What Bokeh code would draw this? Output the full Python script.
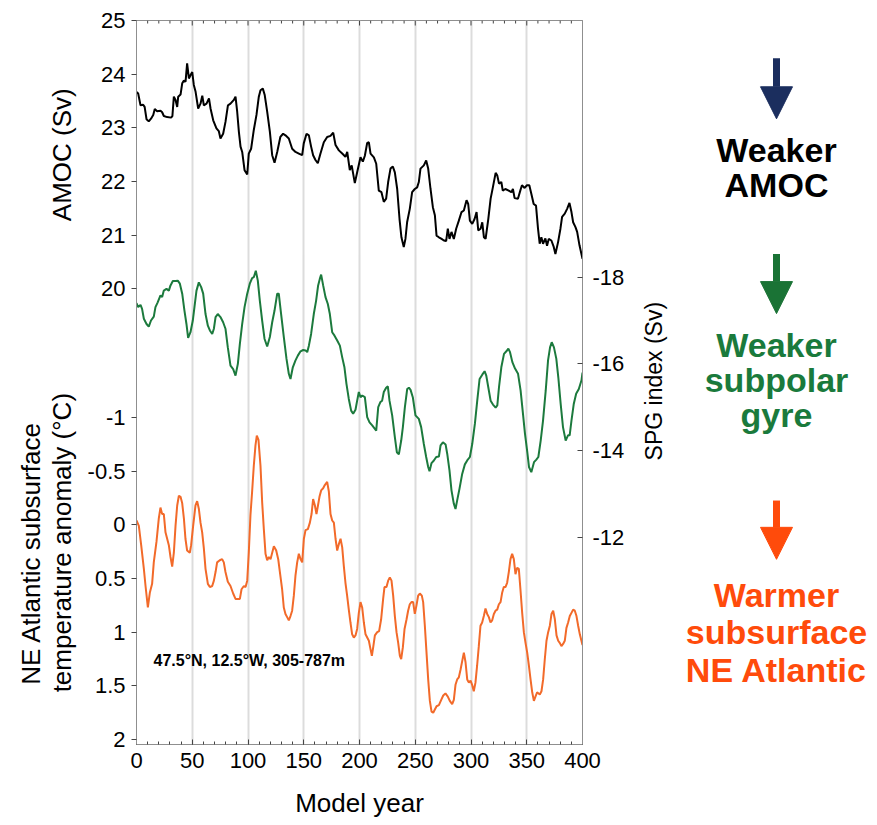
import math
from bokeh.plotting import figure
from bokeh.models import Range1d, LinearAxis, FixedTicker, Label, Arrow, NormalHead
from bokeh.layouts import row
from bokeh.embed import file_html
from bokeh.resources import INLINE
from bokeh.core.properties import value

# ---------------- data ----------------
amoc_year = [0, 1.5, 3.6, 6, 7.3, 9, 11, 13, 15, 16.4, 18.5, 21.5, 23, 24.5, 27.5, 31, 32.2, 33.5, 35, 36.5,
             37.4, 39.5, 41, 42.5, 44, 45.4, 47, 48.4, 50, 51.4, 53, 55.3, 57.4, 59, 60.4, 62.8, 65, 66.4, 68.8,
             71.7, 73.8, 75.3, 77.7, 79.8, 82, 84.3, 87.3, 88.8, 90.3, 91.8, 93.3, 94.8, 96.9, 99.3, 100.7, 102.8,
             105.2, 107.6, 109.7, 111.2, 113.3, 115, 117.2, 119.6, 121.7, 123.8, 126.2, 129, 131.5, 133.6, 136.6,
             139.6, 142.6, 145.6, 148.6, 150, 152.5, 154.6, 156.6, 158.4, 160.5, 162.6, 165, 168, 171, 174, 176.4,
             178.5, 181.5, 184.5, 187.4, 189, 191.3, 193, 195.8, 198, 200.9, 203, 204.8, 206.9, 208.4, 209.9,
             212.9, 215, 217.3, 219.7, 221.8, 223.9, 225.7, 227.8, 229.9, 231.7, 233.8, 235.9, 237.6, 239.7,
             241.2, 242.7, 245.1, 247.2, 249.6, 251.7, 253.2, 254.7, 257.7, 259.8, 261.6, 263.7, 265.8, 267.6,
             269.1, 271.2, 273.6, 275.7, 277.7, 279.2, 280.7, 282.5, 284.6, 286.7, 289.1, 291.5, 293.6, 296,
             297.5, 299, 301.1, 303.2, 305, 306.5, 308.6, 310.1, 311.6, 313.1, 315.5, 317.6, 319.7, 322.1, 323.6,
             325.1, 327.2, 328.5, 330.8, 333.8, 336.2, 337.6, 339.1, 342.1, 344.2, 345.7, 348.1, 350.2, 352.3,
             354.1, 356.2, 358.3, 360.1, 361.6, 363.1, 364.6, 366.7, 368.2, 369.7, 372.1, 374.2, 375.7, 378.1,
             380.2, 381.7, 384.1, 386.2, 388.3, 390.1, 391.6, 393.7, 395.2, 397.3, 400]
amoc_sv = [23.67, 23.64, 23.42, 23.43, 23.39, 23.16, 23.12, 23.17, 23.24, 23.35, 23.31, 23.32, 23.29, 23.22,
           23.2, 23.19, 23.22, 23.58, 23.52, 23.39, 23.58, 23.62, 23.83, 23.88, 23.86, 24.2, 23.92, 23.98, 24.04,
           23.8, 23.67, 23.36, 23.45, 23.6, 23.42, 23.45, 23.55, 23.36, 23.14, 22.99, 22.94, 22.8, 22.89, 23.11,
           23.42, 23.45, 23.52, 23.58, 23.3, 22.93, 22.65, 22.55, 22.21, 22.13, 22.52, 22.61, 22.96, 23.24,
           23.58, 23.7, 23.73, 23.61, 23.3, 22.93, 22.49, 22.35, 22.55, 22.83, 22.89, 22.86, 22.8, 22.61, 22.55,
           22.52, 22.49, 22.71, 22.89, 22.86, 22.65, 22.49, 22.4, 22.34, 22.52, 22.73, 22.83, 22.85, 22.91,
           22.68, 22.58, 22.52, 22.46, 22.55, 22.21, 22.3, 21.97, 22.18, 22.45, 22.37, 22.48, 22.72, 22.73,
           22.52, 22.45, 22.33, 21.83, 21.8, 21.62, 21.68, 21.99, 22.24, 22.28, 22.17, 21.86, 21.3, 20.96,
           20.78, 20.93, 21.24, 21.49, 21.8, 21.86, 21.89, 21.99, 22.24, 22.3, 22.39, 22.24, 21.86, 21.52,
           21.37, 20.99, 20.96, 20.93, 20.9, 20.89, 21.12, 20.93, 21.06, 20.93, 21.12, 21.27, 21.43, 21.46,
           21.65, 21.58, 21.27, 21.21, 21.3, 21.43, 21.09, 21.12, 21.24, 20.96, 20.93, 21.3, 21.68, 21.9, 22.16,
           22.11, 21.96, 21.99, 21.83, 21.86, 21.83, 21.8, 21.86, 21.69, 21.68, 21.83, 21.93, 21.88, 21.93,
           21.93, 21.77, 21.58, 21.55, 21.12, 20.84, 20.96, 20.84, 20.94, 20.8, 20.93, 20.9, 20.78, 20.65,
           20.87, 21.12, 21.34, 21.4, 21.49, 21.6, 21.43, 21.24, 21.15, 21.06, 20.81, 20.56]

spg_year = [0, 1.5, 3.6, 5, 6.6, 9, 11, 13, 15.5, 17, 19, 21.5, 23, 24.5, 26.9, 29, 30.5, 32.6, 35, 37, 38.9,
            41, 43, 44.8, 46.3, 48.4, 50.5, 52.3, 53.8, 55.9, 58, 59.8, 61.9, 64, 65.8, 67.9, 69.4, 70.9, 72.9,
            75.3, 77.7, 79.8, 81.9, 84.3, 86.7, 88.8, 90.9, 92.7, 94.8, 96.9, 99.3, 101.6, 103.7, 105.2, 107,
            108.8, 110.6, 112.7, 114.8, 117.2, 119.6, 121.7, 123.8, 126.2, 127.6, 129.7, 132.1, 134.5, 136.6,
            138.1, 140.2, 142.6, 144.7, 147.1, 149.5, 151.6, 153.1, 154.6, 156.6, 159, 161.1, 162.9, 164.4,
            165.6, 167.4, 169.5, 171.6, 173.4, 175.5, 177.6, 180, 182.4, 184.5, 186.5, 188.3, 190.4, 192.5,
            194.3, 196.4, 197.9, 199.4, 200.9, 202.4, 204.8, 206.9, 209, 211.4, 213.8, 215, 216.8, 218.8,
            220.3, 221.8, 223.9, 225.4, 226.9, 229.3, 231.7, 233.5, 235.3, 237.4, 238.9, 240.7, 242.8, 244.3,
            245.8, 247.8, 250.2, 253.2, 255.3, 257.7, 259.8, 261.6, 262.8, 264.6, 266.7, 268.8, 271.2, 272.7,
            274.8, 277.2, 278.7, 280.7, 282.5, 284.6, 286.1, 287.6, 289.7, 292.1, 294.5, 296.6, 299, 301.1,
            303.5, 305.6, 307.7, 310.1, 312.2, 313.7, 315.5, 317.6, 319.7, 322.1, 323.6, 325.1, 327.2, 329.6,
            331.7, 333.5, 335, 337.1, 339.5, 342.2, 344.5, 346.6, 348.4, 350.5, 352, 354.1, 356.5, 358.6,
            360.4, 362.5, 364.6, 367, 369.1, 370.9, 372.4, 374.4, 376.5, 378.3, 380.4, 382.5, 384.9, 387,
            388.5, 390.1, 392.2, 394.3, 396.7, 399.1, 400]
spg_sv = [-17.4, -17.31, -17.36, -17.27, -17.04, -16.92, -16.86, -17.0, -17.09, -17.31, -17.42, -17.58, -17.54,
          -17.69, -17.73, -17.69, -17.81, -17.91, -17.91, -17.92, -17.85, -17.62, -17.23, -16.92, -16.6, -16.73,
          -17.0, -17.38, -17.69, -17.88, -17.77, -17.62, -17.15, -16.88, -16.77, -16.69, -16.81, -17.08, -17.15,
          -17.08, -16.96, -16.81, -16.38, -15.96, -15.88, -15.73, -16.0, -16.46, -16.92, -17.31, -17.62, -17.85,
          -17.98, -18.0, -18.15, -17.92, -17.46, -17.0, -16.58, -16.4, -16.62, -16.96, -17.23, -17.62, -17.62,
          -17.15, -16.62, -16.12, -15.77, -15.65, -15.92, -16.08, -16.19, -16.29, -16.32, -16.31, -16.27,
          -16.42, -16.69, -17.15, -17.46, -17.81, -17.96, -18.06, -17.81, -17.54, -17.38, -17.15, -16.73,
          -16.65, -16.54, -16.42, -16.15, -15.92, -15.54, -15.19, -14.92, -14.85, -14.94, -15.15, -15.35,
          -15.23, -15.27, -15.23, -14.77, -14.65, -14.58, -14.5, -14.46, -15.0, -15.12, -15.15, -15.35, -15.45,
          -15.48, -15.15, -14.81, -14.31, -13.96, -13.91, -14.23, -14.54, -15.0, -15.42, -15.45, -15.4, -15.23,
          -14.81, -14.73, -14.54, -14.15, -13.85, -13.62, -13.52, -13.71, -13.77, -13.85, -13.86, -14.12,
          -14.19, -14.14, -13.92, -13.54, -13.08, -12.77, -12.65, -12.85, -13.12, -13.46, -13.68, -13.77,
          -13.85, -14.15, -14.62, -15.15, -15.65, -15.75, -15.83, -15.73, -15.46, -15.15, -15.06, -14.99,
          -15.04, -15.46, -15.92, -16.23, -16.29, -16.35, -16.27, -16.04, -15.89, -15.77, -15.38, -14.85,
          -14.39, -13.96, -13.62, -13.5, -13.73, -13.79, -13.85, -14.23, -14.69, -15.38, -16.08, -16.38, -16.5,
          -16.38, -16.12, -15.69, -15.08, -14.54, -14.23, -14.35, -14.35, -14.69, -15.08, -15.31, -15.42,
          -15.62, -15.8]

temp_year = [0, 2.1, 4.2, 6.6, 8.1, 10.2, 12, 14, 15.5, 17.9, 20, 21.5, 23, 24.5, 26, 27.5, 29, 30.5, 32, 33.5,
             35, 36.5, 38, 39.5, 41, 42.5, 43.9, 45.4, 47.8, 49, 50.8, 52.9, 54.4, 55.9, 57.4, 58.9, 60.4, 61.9,
             64, 65.8, 67.9, 69.4, 70.9, 72.3, 74.7, 76.8, 78.3, 79.8, 81.9, 84.3, 86.7, 88.8, 90.9, 92.7, 94.2,
             96.3, 97.8, 99.3, 100.7, 102.2, 103.7, 105.2, 106.7, 107.9, 109.4, 111.2, 112.7, 114.2, 115.7,
             117.2, 118.7, 120.2, 121.7, 123.2, 125.3, 127.1, 128.6, 130.6, 132.1, 133.6, 135.1, 136.6, 138.1,
             139.6, 141.1, 142.6, 144.1, 145.6, 147.1, 148.6, 150.1, 151.6, 153.7, 155.5, 157, 158.4, 160,
             161.4, 162.6, 164.1, 165.6, 167.4, 168.9, 171, 172.5, 174, 175.5, 177, 178.5, 180, 181.5, 183,
             184.5, 185.9, 187.4, 188.9, 190.4, 191.9, 193.4, 194.9, 196.4, 197.9, 199.4, 200.9, 202.4, 203.9,
             205.4, 206.9, 208.4, 209.9, 211.1, 212.3, 213.8, 215.9, 217.6, 219.4, 221.2, 222.4, 224.2, 225.7,
             227.2, 228.7, 230.2, 231.7, 233.2, 234.7, 236.2, 237.4, 238.9, 240.4, 242.2, 243.6, 245.1, 246.6,
             248.1, 249.6, 251.1, 252.6, 254.1, 255.9, 257.1, 258.6, 260.1, 261.6, 263.1, 264.6, 266.1, 267.6,
             269.1, 271.2, 273.3, 275.1, 277.1, 279.2, 281, 283.1, 284.6, 286.1, 287.6, 289.1, 290.6, 292.1,
             293.6, 295.1, 296.6, 298.1, 299.6, 301, 302.5, 304, 305.5, 307, 308.5, 310, 311.5, 313, 314.5,
             316, 317.5, 319, 320.5, 322, 323.5, 325, 326.5, 328, 329.4, 330.9, 332.4, 333.9, 335.4, 336.9,
             338.4, 339.9, 341.4, 342.9, 344.4, 345.9, 347.4, 348.9, 350.4, 351.9, 353.4, 354.9, 356.4, 357.8,
             359.3, 361.7, 363.2, 364.7, 366.2, 367.7, 369.2, 370.7, 372.2, 373.7, 375.2, 376.7, 378.2, 379.6,
             381.1, 382.6, 384.1, 385.6, 387.1, 388.6, 390.1, 391.6, 393.1, 394.6, 396.1, 397.6, 400]
temp_anom = [-0.04, 0.01, 0.19, 0.41, 0.57, 0.77, 0.63, 0.55, 0.35, 0.16, -0.06, -0.16, -0.1, -0.1, 0.07, 0.13,
             0.19, 0.3, 0.39, 0.26, 0.01, -0.18, -0.27, -0.26, -0.2, -0.06, 0.13, 0.24, 0.26, 0.19, 0.01, -0.18,
             -0.22, -0.15, -0.02, 0.07, 0.22, 0.41, 0.55, 0.58, 0.57, 0.52, 0.44, 0.35, 0.33, 0.32, 0.35, 0.44,
             0.53, 0.57, 0.64, 0.69, 0.69, 0.69, 0.6, 0.57, 0.58, 0.52, 0.26, -0.09, -0.31, -0.55, -0.74, -0.83,
             -0.79, -0.55, -0.21, 0.04, 0.27, 0.33, 0.3, 0.32, 0.26, 0.2, 0.24, 0.32, 0.44, 0.6, 0.77, 0.83, 0.86,
             0.89, 0.85, 0.8, 0.66, 0.47, 0.35, 0.27, 0.32, 0.35, 0.13, 0.05, 0.04, -0.02, -0.1, -0.24, -0.18,
             -0.1, -0.17, -0.26, -0.32, -0.34, -0.37, -0.4, -0.31, -0.1, -0.04, -0.02, 0.13, 0.24, 0.18, 0.13,
             0.21, 0.38, 0.54, 0.66, 0.79, 0.91, 1.02, 1.05, 1.03, 0.97, 0.82, 0.72, 0.77, 0.91, 1.02, 1.05,
             1.08, 1.16, 1.22, 1.14, 1.03, 1.0, 0.99, 0.88, 0.69, 0.58, 0.58, 0.52, 0.49, 0.52, 0.66, 0.85, 1.0,
             1.1, 1.22, 1.25, 1.14, 0.97, 0.88, 0.8, 0.74, 0.72, 0.72, 0.83, 0.75, 0.66, 0.64, 0.66, 0.72, 0.94,
             1.19, 1.44, 1.64, 1.74, 1.75, 1.72, 1.69, 1.68, 1.63, 1.59, 1.57, 1.6, 1.64, 1.67, 1.63, 1.49,
             1.44, 1.42, 1.35, 1.27, 1.19, 1.28, 1.44, 1.47, 1.45, 1.49, 1.55, 1.47, 1.31, 1.13, 0.94, 0.91,
             0.85, 0.78, 0.83, 0.86, 0.91, 0.89, 0.83, 0.8, 0.79, 0.74, 0.72, 0.63, 0.58, 0.58, 0.54, 0.44, 0.32,
             0.27, 0.32, 0.46, 0.4, 0.41, 0.61, 0.82, 1.0, 1.1, 1.19, 1.31, 1.44, 1.56, 1.64, 1.6, 1.56, 1.58,
             1.55, 1.44, 1.25, 1.08, 1.0, 0.94, 0.83, 0.8, 0.88, 1.03, 1.08, 1.1, 1.13, 1.11, 1.08, 0.96, 0.91,
             0.85, 0.82, 0.79, 0.8, 0.85, 0.94, 1.02, 1.12]

year_ticks = [0, 50, 100, 150, 200, 250, 300, 350, 400]
year_minor_ticks = list(range(0, 401, 10))
grid_years = [50, 100, 150, 200, 250, 300, 350]
amoc_ticks = [20, 21, 22, 23, 24, 25]
amoc_tick_labels = ["20", "21", "22", "23", "24", "25"]
temp_ticks = [-1, -0.5, 0, 0.5, 1, 1.5, 2]
temp_tick_labels = ["-1", "-0.5", "0", "0.5", "1", "1.5", "2"]
spg_ticks = [-18, -16, -14, -12]
spg_tick_labels = ["-18", "-16", "-14", "-12"]

# ---------------- layout constants ----------------
FONT = "Liberation Sans"
W_LEFT, W_MAIN, H = 80, 556, 825
W_SIDE = 877 - W_LEFT - W_MAIN
FL, FR, FT, FB = 136, 582, 20, 744          # frame edges in page pixels
A_START, A_END = 11.508, 25.0               # AMOC range (bottom, top)
T_START, T_END = 2.046, -4.696              # temperature range, inverted
S_START, S_END = -7.215, -23.924            # SPG range, inverted

BLACK = "#000000"
GREEN = "#1c7a3d"
ORANGE = "#f26a2a"
AXIS_GREY = "#8f8f8f"
TICK_GREY = "#444444"


def px_x(px):
    return (px - FL) / (FR - FL) * 400.0


def px_y(py):
    return A_END - (py - FT) / (FB - FT) * (A_END - A_START)


def temp_to_left(t):
    frac = (t - T_START) / (T_END - T_START)
    return round(A_START + frac * (A_END - A_START), 6)


def blank_panel(width, x0):
    f = figure(width=width, height=H, x_range=Range1d(x0, x0 + width), y_range=Range1d(H, 0),
               output_backend="svg", toolbar_location=None, x_axis_type=None, y_axis_type=None,
               min_border=0, min_border_left=0, min_border_right=0, min_border_top=0, min_border_bottom=0,
               outline_line_color=None, title=None)
    f.background_fill_color = "white"
    f.border_fill_color = "white"
    return f


# ---------------- left panel: rotated axis titles ----------------
left = blank_panel(W_LEFT, 0)
left.text(x=[61], y=[153], text=["AMOC (Sv)"], angle=math.pi / 2, text_font=value(FONT),
          text_font_size="26px", text_align="center", text_baseline="middle", text_color="black")
left.text(x=[30, 61], y=[607, 595], text=["NE Atlantic subsurface", "temperature anomaly (°C)"],
          angle=math.pi / 2, text_font=value(FONT), text_font_size="26px", text_align="center",
          text_baseline="middle", text_color="black")

# ---------------- main chart ----------------
p = figure(width=W_MAIN, height=H, x_range=Range1d(0, 400), y_range=Range1d(A_START, A_END),
           output_backend="svg", toolbar_location=None, title=None,
           min_border_left=FL - W_LEFT, min_border_right=W_LEFT + W_MAIN - FR,
           min_border_top=FT, min_border_bottom=H - FB)
p.extra_y_ranges = {"temp": Range1d(T_START, T_END), "spg": Range1d(S_START, S_END)}
p.outline_line_color = AXIS_GREY
p.outline_line_width = 1
p.background_fill_color = "white"
p.border_fill_color = "white"

# grid: vertical lines only
p.ygrid.visible = False
p.xgrid.ticker = FixedTicker(ticks=grid_years)
p.xgrid.grid_line_color = "#dcdcdc"
p.xgrid.grid_line_width = 2

# bottom axis
xax = p.below[0]
xax.ticker = FixedTicker(ticks=year_ticks, minor_ticks=year_minor_ticks)
xax.axis_line_color = AXIS_GREY
xax.major_tick_in = 5
xax.major_tick_out = 0
xax.minor_tick_in = 3
xax.minor_tick_out = 0
xax.major_tick_line_color = TICK_GREY
xax.minor_tick_line_color = TICK_GREY
xax.major_label_text_font = FONT
xax.major_label_text_font_size = "22px"
xax.major_label_text_color = "black"
xax.major_label_standoff = 8
xax.axis_label = "Model year"
xax.axis_label_text_font = FONT
xax.axis_label_text_font_size = "26px"
xax.axis_label_text_font_style = "normal"
xax.axis_label_text_color = "black"
xax.axis_label_standoff = 17

# left axis: AMOC ticks plus temperature ticks at their positions
yax = p.left[0]
left_ticks = [float(v) for v in amoc_ticks] + [temp_to_left(t) for t in temp_ticks]
overrides = {}
for v, lab in zip(amoc_ticks, amoc_tick_labels):
    overrides[float(v)] = lab
for t, lab in zip(temp_ticks, temp_tick_labels):
    overrides[temp_to_left(t)] = lab
yax.ticker = FixedTicker(ticks=left_ticks)
yax.major_label_overrides = overrides
yax.axis_line_color = AXIS_GREY
yax.major_tick_in = 0
yax.major_tick_out = 5
yax.minor_tick_in = 0
yax.minor_tick_out = 0
yax.major_tick_line_color = TICK_GREY
yax.major_label_text_font = FONT
yax.major_label_text_font_size = "22px"
yax.major_label_text_color = "black"
yax.major_label_standoff = 6

# right axis: SPG index
rax = LinearAxis(y_range_name="spg", ticker=FixedTicker(ticks=spg_ticks))
rax.major_label_overrides = {float(v): lab for v, lab in zip(spg_ticks, spg_tick_labels)}
rax.axis_line_color = AXIS_GREY
rax.major_tick_in = 5
rax.major_tick_out = 0
rax.minor_tick_in = 0
rax.minor_tick_out = 0
rax.major_tick_line_color = TICK_GREY
rax.major_label_text_font = FONT
rax.major_label_text_font_size = "22px"
rax.major_label_text_color = "black"
rax.major_label_standoff = 10
p.add_layout(rax, "right")

# inward tick marks along the top edge of the frame
top_major = [t for t in year_ticks]
top_minor = [t for t in year_minor_ticks if t not in year_ticks]
tick_len_major = 5 * (A_END - A_START) / (FB - FT)
tick_len_minor = 3 * (A_END - A_START) / (FB - FT)
p.segment(x0=top_major, y0=[A_END] * len(top_major), x1=top_major,
          y1=[A_END - tick_len_major] * len(top_major), line_color=TICK_GREY, line_width=1)
p.segment(x0=top_minor, y0=[A_END] * len(top_minor), x1=top_minor,
          y1=[A_END - tick_len_minor] * len(top_minor), line_color=TICK_GREY, line_width=1)

# series
p.line(amoc_year, amoc_sv, line_color=BLACK, line_width=2)
p.line(spg_year, spg_sv, line_color=GREEN, line_width=2, y_range_name="spg")
p.line(temp_year, temp_anom, line_color=ORANGE, line_width=2, y_range_name="temp")

# location annotation inside the frame
p.add_layout(Label(x=px_x(153), y=px_y(660), text="47.5°N, 12.5°W, 305-787m", text_font=FONT,
                   text_font_size="16px", text_font_style="bold", text_align="left",
                   text_baseline="middle", text_color="black"))

# ---------------- side panel: SPG title, arrows and statements ----------------
side = blank_panel(W_SIDE, W_LEFT + W_MAIN)
side.text(x=[653], y=[411], text=["SPG index (Sv)"], angle=math.pi / 2, text_font=value(FONT),
          text_font_size="23px", text_align="center", text_baseline="middle", text_color="black")

AX = 776
arrows = [(43, 112, "#1b2e5e"), (266, 334, "#1a7335"), (547, 614, "#ff4b0b")]
for y0, y1, col in arrows:
    side.add_layout(Arrow(x_start=AX, y_start=y0, x_end=AX, y_end=y1, line_color=col, line_width=7,
                          end=NormalHead(size=32, fill_color=col, line_color=col, line_width=1)))

statements = [
    (["Weaker", "AMOC"], [147, 188], "#000000"),
    (["Weaker", "subpolar", "gyre"], [370, 410, 450], "#1a7a3c"),
    (["Warmer", "subsurface", "NE Atlantic"], [655, 697, 740], "#ff4b0b"),
]
for words, ys, col in statements:
    side.text(x=[AX] * len(words), y=ys, text=words, text_font=value(FONT), text_font_style="bold",
              text_font_size="34px", text_align="center", text_baseline="middle", text_color=col)

layout = row(left, p, side)
open("out.html", "w").write(file_html(layout, INLINE))
